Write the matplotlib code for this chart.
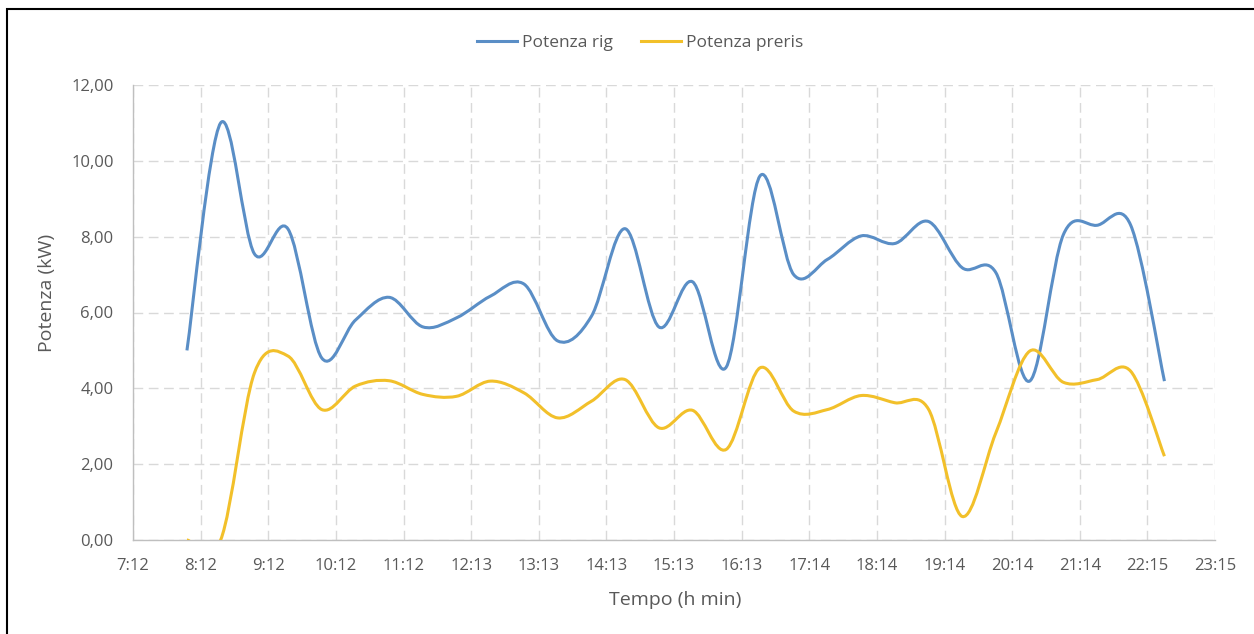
import matplotlib.pyplot as plt
from matplotlib.path import Path
from matplotlib.patches import PathPatch, Rectangle
from matplotlib.lines import Line2D
import numpy as np

# sampling times (every 30 min)
times = ["8:00", "8:30", "9:00", "9:30", "10:00", "10:30", "11:00", "11:30",
         "12:00", "12:30", "13:00", "13:30", "14:00", "14:30", "15:00", "15:30",
         "16:00", "16:30", "17:00", "17:30", "18:00", "18:30", "19:00", "19:30",
         "20:00", "20:30", "21:00", "21:30", "22:00", "22:30"]

potenza_rig = [5.0, 11.0, 7.55, 8.2, 4.8, 5.8, 6.4, 5.62, 5.86, 6.43,
               6.75, 5.25, 5.9, 8.21, 5.62, 6.81, 4.56, 9.6, 7.0, 7.4,
               8.02, 7.82, 8.4, 7.18, 7.05, 4.19, 8.05, 8.3, 8.3, 4.19]

potenza_preris = [0.0, 0.0, 4.4, 4.85, 3.44, 4.06, 4.2, 3.84, 3.79, 4.19,
                  3.88, 3.22, 3.66, 4.23, 2.96, 3.42, 2.39, 4.54, 3.4, 3.44,
                  3.81, 3.62, 3.45, 0.62, 2.83, 4.98, 4.16, 4.23, 4.45, 2.21]

x_tick_labels = ["7:12", "8:12", "9:12", "10:12", "11:12", "12:13", "13:13",
                 "14:13", "15:13", "16:13", "17:14", "18:14", "19:14", "20:14",
                 "21:14", "22:15", "23:15"]
y_ticks = [0, 2, 4, 6, 8, 10, 12]
y_tick_labels = ["0,00", "2,00", "4,00", "6,00", "8,00", "10,00", "12,00"]

BLUE = '#5A8EC6'
YELLOW = '#F2C02A'
TEXT = '#595959'
GRID = '#d9d9d9'


def to_hours(t):
    h, m = t.split(':')
    return int(h) + int(m) / 60


def smooth_path(x, y):
    # Excel-like smoothed line (Catmull-Rom as cubic Bezier)
    n = len(x)
    verts = [(x[0], y[0])]
    codes = [Path.MOVETO]
    for i in range(n - 1):
        xa, ya = (x[i - 1], y[i - 1]) if i > 0 else (x[i], y[i])
        xb, yb = (x[i + 2], y[i + 2]) if i + 2 < n else (x[i + 1], y[i + 1])
        c1 = (x[i] + (x[i + 1] - xa) / 6, y[i] + (y[i + 1] - ya) / 6)
        c2 = (x[i + 1] - (xb - x[i]) / 6, y[i + 1] - (yb - y[i]) / 6)
        verts += [c1, c2, (x[i + 1], y[i + 1])]
        codes += [Path.CURVE4] * 3
    return Path(verts, codes)


plt.rcParams['font.family'] = ['Open Sans', 'DejaVu Sans']

fig = plt.figure(figsize=(12.54, 6.34), dpi=100)
ax = fig.add_axes([133 / 1254, 94 / 634, 1082 / 1254, 455 / 634])

hours = [to_hours(t) for t in times]
x_min, x_max = to_hours("7:12"), to_hours("23:15")

for values, color in [(potenza_rig, BLUE), (potenza_preris, YELLOW)]:
    patch = PathPatch(smooth_path(hours, values), fill=False, edgecolor=color,
                      lw=2.2, capstyle='butt', joinstyle='round', zorder=3)
    ax.add_patch(patch)

ax.set_xlim(x_min, x_max)
ax.set_ylim(0, 12)
ax.set_xticks(np.linspace(x_min, x_max, len(x_tick_labels)))
ax.set_xticklabels(x_tick_labels)
ax.set_yticks(y_ticks)
ax.set_yticklabels(y_tick_labels)
ax.tick_params(length=0, labelsize=12, labelcolor=TEXT)
ax.tick_params(axis='y', pad=14)
ax.tick_params(axis='x', pad=13)

ax.grid(True, color=GRID, linestyle=(0, (7, 4)), linewidth=1)
ax.set_axisbelow(True)
for side in ['top', 'right']:
    ax.spines[side].set_visible(False)
for side in ['left', 'bottom']:
    ax.spines[side].set_color('#bfbfbf')
    ax.spines[side].set_linewidth(1)

ax.set_ylabel('Potenza (kW)', fontsize=14, color=TEXT, va='center')
ax.yaxis.set_label_coords(-0.0795, 0.543)
ax.set_xlabel('Tempo (h min)', fontsize=14, color=TEXT, va='center')
ax.xaxis.set_label_coords(0.501, -0.132)

handles = [Line2D([], [], color=BLUE, lw=2.2), Line2D([], [], color=YELLOW, lw=2.2)]
fig.legend(handles, ['Potenza rig', 'Potenza preris'], loc='center',
           bbox_to_anchor=(640 / 1254, 1 - 43 / 634), ncol=2, frameon=False,
           fontsize=12.5, handlelength=2.3, handletextpad=0.3, columnspacing=1.6,
           labelcolor=TEXT)

# outer border of the chart box
fig.add_artist(Rectangle((7 / 1254, -0.05), 1.1, 1 - 9 / 634 + 0.05,
                         transform=fig.transFigure, fill=False,
                         edgecolor='black', lw=1.5))

fig.savefig('out.png', dpi=100)
